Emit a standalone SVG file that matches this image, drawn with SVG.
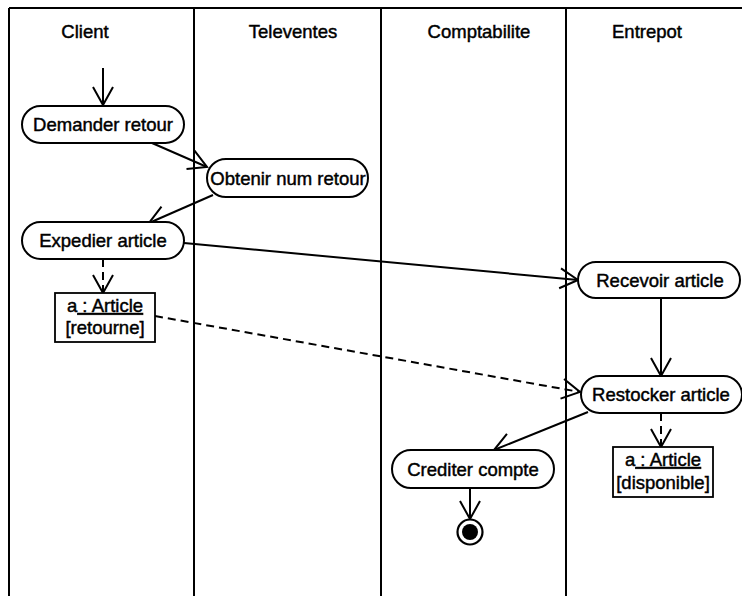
<svg xmlns="http://www.w3.org/2000/svg" width="742" height="596" viewBox="0 0 742 596">
  <style>
    text { font-family: "Liberation Sans", Arial, sans-serif; font-size: 18.5px; fill: #000; stroke: #000; stroke-width: 0.45; text-anchor: middle; }
    .lane { stroke: #000; stroke-width: 2; fill: none; }
    .act { fill: #fff; stroke: #000; stroke-width: 2; }
    .obj { fill: #fff; stroke: #000; stroke-width: 1.8; }
    .flow { stroke: #000; stroke-width: 2; fill: none; marker-end: url(#open); }
    .dep { stroke: #000; stroke-width: 2; fill: none; stroke-dasharray: 8 5; marker-end: url(#open); }
  </style>
  <defs>
    <marker id="open" markerUnits="userSpaceOnUse" viewBox="-20 -12 22 24" markerWidth="22" markerHeight="24" refX="0" refY="0" orient="auto">
      <path d="M-18,-10 L0,0 L-18,10" fill="none" stroke="#000" stroke-width="2"/>
    </marker>
  </defs>
  <rect width="742" height="596" fill="#fff"/>

  <!-- swimlanes -->
  <g id="lanes">
    <line class="lane" x1="9" y1="8" x2="742" y2="8"/>
    <line class="lane" x1="9" y1="8" x2="9" y2="596"/>
    <line class="lane" x1="194" y1="8" x2="194" y2="596"/>
    <line class="lane" x1="381" y1="8" x2="381" y2="596"/>
    <line class="lane" x1="566" y1="8" x2="566" y2="596"/>
    <text x="85" y="38">Client</text>
    <text x="293" y="38">Televentes</text>
    <text x="479" y="38">Comptabilite</text>
    <text x="647" y="38">Entrepot</text>
  </g>

  <!-- connectors -->
  <g id="connectors">
    <line class="flow" x1="103" y1="68" x2="103" y2="105"/>
    <line class="flow" x1="152" y1="143" x2="207" y2="167"/>
    <line class="flow" x1="213" y1="195" x2="149" y2="223"/>
    <line class="flow" x1="184" y1="243" x2="578" y2="280"/>
    <line class="dep" x1="103" y1="259" x2="103" y2="293"/>
    <line class="dep" x1="155" y1="316" x2="580" y2="392"/>
    <line class="flow" x1="661" y1="298" x2="661" y2="376"/>
    <line class="flow" x1="588" y1="412" x2="494" y2="450"/>
    <line class="dep" x1="661" y1="413" x2="661" y2="447"/>
    <line class="flow" x1="470" y1="488" x2="470" y2="519"/>
  </g>

  <!-- activities -->
  <g id="demander-retour">
    <rect class="act" x="22" y="106" width="162" height="37" rx="18.5"/>
    <text x="103" y="131">Demander retour</text>
  </g>
  <g id="obtenir-num-retour">
    <rect class="act" x="207" y="159" width="161" height="38" rx="19"/>
    <text x="288" y="185">Obtenir num retour</text>
  </g>
  <g id="expedier-article">
    <rect class="act" x="22" y="222" width="162" height="37" rx="18.5"/>
    <text x="103" y="247">Expedier article</text>
  </g>
  <g id="recevoir-article">
    <rect class="act" x="578" y="262" width="162" height="36" rx="18"/>
    <text x="660" y="287">Recevoir article</text>
  </g>
  <g id="restocker-article">
    <rect class="act" x="581" y="376" width="161" height="37" rx="18.5"/>
    <text x="661" y="401">Restocker article</text>
  </g>
  <g id="crediter-compte">
    <rect class="act" x="392" y="450" width="162" height="38" rx="19"/>
    <text x="473" y="476">Crediter compte</text>
  </g>

  <!-- object flows -->
  <g id="article-retourne">
    <rect class="obj" x="55" y="293" width="100" height="49"/>
    <text x="105" y="312">a<tspan text-decoration="underline"> : Article</tspan></text>
    <text x="105" y="334">[retourne]</text>
  </g>
  <g id="article-disponible">
    <rect class="obj" x="613" y="447" width="100" height="50"/>
    <text x="663" y="466">a<tspan text-decoration="underline"> : Article</tspan></text>
    <text x="663" y="489">[disponible]</text>
  </g>

  <!-- final state -->
  <g id="final">
    <circle cx="470" cy="532" r="12.5" fill="#fff" stroke="#000" stroke-width="2.2"/>
    <circle cx="470" cy="532" r="8" fill="#000"/>
  </g>
</svg>
